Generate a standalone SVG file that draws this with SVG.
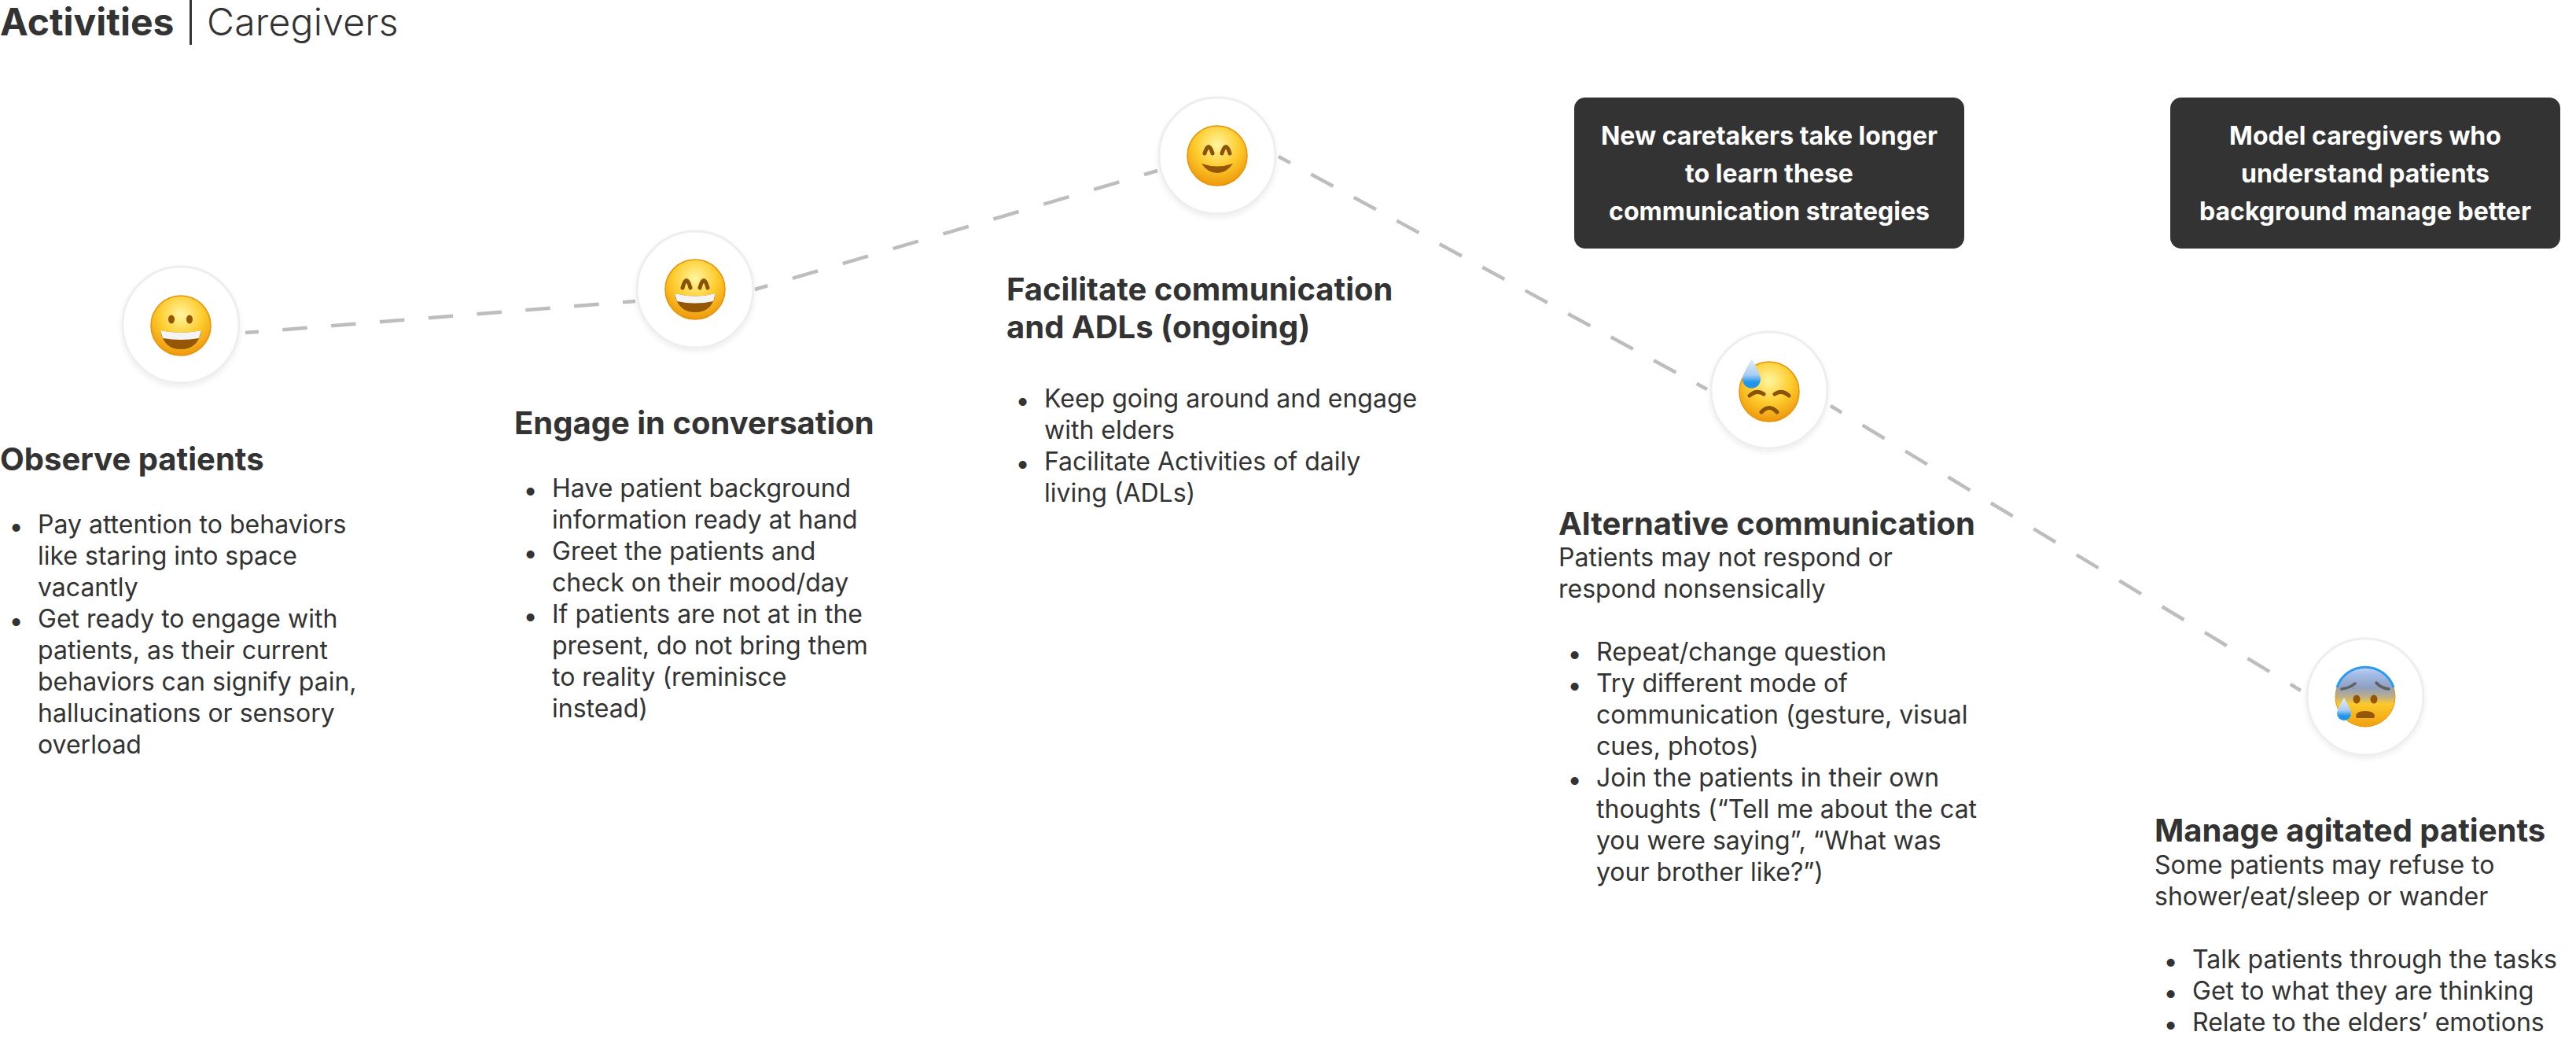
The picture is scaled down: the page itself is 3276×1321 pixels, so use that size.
<svg xmlns="http://www.w3.org/2000/svg" width="3276" height="1321" viewBox="0 0 3276 1321">
<style>
text{font-family:Inter,"Noto Sans","Liberation Sans",sans-serif;fill:#333}
.h{font-size:40px;font-weight:700}
.b{font-size:32px;font-weight:400}
.u{font-size:32px;font-weight:700}
.n{font-size:32px;font-weight:700;fill:#fff;text-anchor:middle}
.c{fill:#fff;stroke:#eeeeee;stroke-width:3;filter:url(#sh)}
.d{fill:#333}
.dash{fill:none;stroke:#bdbdbd;stroke-width:4.500}
.f{fill:url(#y);stroke:#e8930c;stroke-width:1.500}
.m{fill:#955706}
.l{fill:none;stroke:#8a5205;stroke-width:5;stroke-linecap:round}
</style>
<defs>
<radialGradient id="y" cx="50%" cy="32%" r="68%"><stop offset="0" stop-color="#fff6a0"/><stop offset=".55" stop-color="#fdcb2c"/><stop offset="1" stop-color="#ee980c"/></radialGradient>
<linearGradient id="cold" x1="0" y1="0" x2="0" y2="1"><stop offset="0" stop-color="#c9d6ef"/><stop offset=".12" stop-color="#a3bce8"/><stop offset=".35" stop-color="#8f9fc0"/><stop offset=".5" stop-color="#bdb088"/><stop offset=".62" stop-color="#fdc92a"/><stop offset="1" stop-color="#f0a010"/></linearGradient>
<linearGradient id="drop" x1="0" y1="0" x2="0" y2="1"><stop offset="0" stop-color="#e4eef6"/><stop offset=".55" stop-color="#a9cdf2"/><stop offset=".8" stop-color="#1f95ec"/></linearGradient>
<filter id="sh" x="-20%" y="-20%" width="140%" height="140%"><feDropShadow dx="0" dy="3" stdDeviation="3" flood-color="#000" flood-opacity=".07"/></filter>
</defs>
<g id="connectors" class="dash">
<path d="M312 423L808 383" stroke-dasharray="31.500 30.500" stroke-dashoffset="14.500"/>
<path d="M960 368L1472 217" stroke-dasharray="33.600 33" stroke-dashoffset="16.700"/>
<path d="M1626 199L2171 495" stroke-dasharray="32 30" stroke-dashoffset="15"/>
<path d="M2328 516L2926 878" stroke-dasharray="32.500 31.100" stroke-dashoffset="16"/>
</g>
<g id="title"><text x="0" y="45" style="font-size:48px;font-weight:700">Activities</text><rect x="241" y="0" width="3" height="57" fill="#333"/><text x="263" y="45" style="font-size:48px;font-weight:300;letter-spacing:.25px">Caregivers</text></g>
<g id="n1"><circle class="c" cx="230" cy="413" r="74"/><circle class="f" cx="230" cy="414" r="38"/><ellipse class="m" cx="218" cy="406" rx="4" ry="5.500"/><ellipse class="m" cx="241" cy="406" rx="4" ry="5.500"/><path class="m" d="M204 420Q230 426 256 420Q252 444 230 444Q208 444 204 420Z"/><path d="M204 420Q230 426 256 420L253 430Q230 434 207 430Z" fill="#f4f4f4"/>
<text class="h" x="0" y="598">Observe patients</text>
<text class="u" x="13" y="680">•</text><text class="b" x="48" y="678">Pay attention to behaviors</text><text class="b" x="48" y="718">like staring into space</text><text class="b" x="48" y="758">vacantly</text>
<text class="u" x="13" y="800">•</text><text class="b" x="48" y="798">Get ready to engage with</text><text class="b" x="48" y="838">patients, as their current</text><text class="b" x="48" y="878">behaviors can signify pain,</text><text class="b" x="48" y="918">hallucinations or sensory</text><text class="b" x="48" y="958">overload</text></g>
<g id="n2"><circle class="c" cx="884" cy="368" r="74"/><circle class="f" cx="884" cy="368" r="38"/><path class="l" d="M868 366Q873 347 878 366M890 366Q895 347 900 366"/><path class="m" d="M858 373Q884 380 910 373Q906 397 884 397Q862 397 858 373Z"/><path d="M858 373Q884 380 910 373L907 383Q884 388 861 383Z" fill="#f4f4f4"/>
<text class="h" x="654" y="552">Engage in conversation</text>
<text class="u" x="667" y="634">•</text><text class="b" x="702" y="632">Have patient background</text><text class="b" x="702" y="672">information ready at hand</text>
<text class="u" x="667" y="714">•</text><text class="b" x="702" y="712">Greet the patients and</text><text class="b" x="702" y="752">check on their mood/day</text>
<text class="u" x="667" y="794">•</text><text class="b" x="702" y="792">If patients are not at in the</text><text class="b" x="702" y="832">present, do not bring them</text><text class="b" x="702" y="872">to reality (reminisce</text><text class="b" x="702" y="912">instead)</text></g>
<g id="n3"><circle class="c" cx="1548" cy="198" r="74"/><circle class="f" cx="1548" cy="198" r="38"/><path class="l" d="M1532 195Q1537 178 1542 195M1554 195Q1559 178 1564 195"/><path class="m" d="M1528 208Q1548 215 1568 208Q1560 220 1548 220Q1536 220 1528 208Z"/>
<text class="h" x="1280" y="382">Facilitate communication</text><text class="h" x="1280" y="430">and ADLs (ongoing)</text>
<text class="u" x="1293" y="520">•</text><text class="b" x="1328" y="518">Keep going around and engage</text><text class="b" x="1328" y="558">with elders</text>
<text class="u" x="1293" y="600">•</text><text class="b" x="1328" y="598">Facilitate Activities of daily</text><text class="b" x="1328" y="638">living (ADLs)</text></g>
<g id="n4"><circle class="c" cx="2250" cy="496" r="74"/><circle class="f" cx="2250" cy="498" r="38"/><path class="l" d="M2225 503Q2234 495 2243 501M2257 501Q2266 495 2275 503M2240 524Q2250 513 2260 524"/><path d="M2228 456Q2216 476 2216 482A11.500 11.500 0 0 0 2239 482Q2239 476 2228 456Z" fill="url(#drop)"/>
<text class="h" x="1982" y="680">Alternative communication</text>
<text class="b" x="1982" y="720">Patients may not respond or</text><text class="b" x="1982" y="760">respond nonsensically</text>
<text class="u" x="1995" y="842">•</text><text class="b" x="2030" y="840">Repeat/change question</text>
<text class="u" x="1995" y="882">•</text><text class="b" x="2030" y="880">Try different mode of</text><text class="b" x="2030" y="920">communication (gesture, visual</text><text class="b" x="2030" y="960">cues, photos)</text>
<text class="u" x="1995" y="1002">•</text><text class="b" x="2030" y="1000">Join the patients in their own</text><text class="b" x="2030" y="1040">thoughts (“Tell me about the cat</text><text class="b" x="2030" y="1080">you were saying”, “What was</text><text class="b" x="2030" y="1120">your brother like?”)</text></g>
<g id="n5"><circle class="c" cx="3008" cy="886" r="74"/><circle cx="3008" cy="886" r="38" fill="url(#cold)" stroke="#e8930c" stroke-width="1"/><path d="M2972 874A38 38 0 0 1 3044 874" fill="none" stroke="#2a9bef" stroke-width="3"/><ellipse class="m" cx="2997" cy="889" rx="4.500" ry="5.500"/><ellipse class="m" cx="3019" cy="889" rx="4.500" ry="5.500"/><path d="M2978 876Q2988 875 2995 869M3038 876Q3028 875 3022 868" fill="none" stroke="#5f6060" stroke-width="3.500" stroke-linecap="round"/><path class="m" d="M2996 911Q2996 904 3008 904Q3020 904 3020 911Q3020 913 3017 913L2999 913Q2996 913 2996 911Z"/><path d="M2981 887Q2972 902 2972 907A9 9 0 0 0 2990 907Q2990 902 2981 887Z" fill="url(#drop)"/>
<text class="h" x="2740" y="1070">Manage agitated patients</text>
<text class="b" x="2740" y="1111">Some patients may refuse to</text><text class="b" x="2740" y="1151">shower/eat/sleep or wander</text>
<text class="u" x="2753" y="1233">•</text><text class="b" x="2788" y="1231">Talk patients through the tasks</text>
<text class="u" x="2753" y="1273">•</text><text class="b" x="2788" y="1271">Get to what they are thinking</text>
<text class="u" x="2753" y="1313">•</text><text class="b" x="2788" y="1311">Relate to the elders’ emotions</text></g>
<g id="note1"><rect class="d" x="2002" y="124" width="496" height="192" rx="14"/><text class="n" x="2250" y="184">New caretakers take longer</text><text class="n" x="2250" y="232">to learn these</text><text class="n" x="2250" y="280">communication strategies</text></g>
<g id="note2"><rect class="d" x="2760" y="124" width="496" height="192" rx="14"/><text class="n" x="3008" y="184">Model caregivers who</text><text class="n" x="3008" y="232">understand patients</text><text class="n" x="3008" y="280">background manage better</text></g>
</svg>
